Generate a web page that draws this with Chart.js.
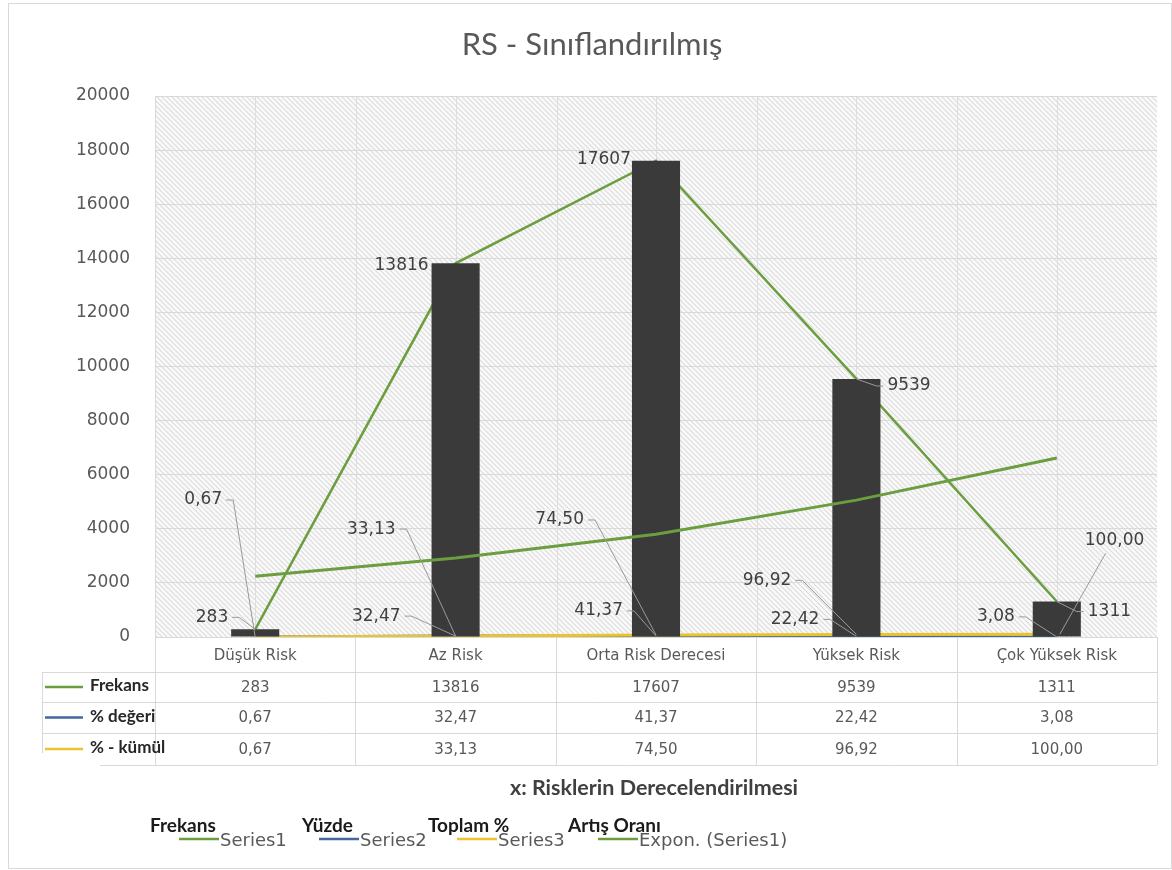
<!DOCTYPE html><html><head>
<meta charset="utf-8">
<title>RS - Sınıflandırılmış</title>
<style>body{margin:0;background:#fff;}canvas{display:block;}</style>
</head>
<body>
<canvas id="chart" width="1172" height="870"></canvas>
<script src="https://cdn.jsdelivr.net/npm/chart.js"></script>
<script>
// data
const categories = ['Düşük Risk', 'Az Risk', 'Orta Risk Derecesi', 'Yüksek Risk', 'Çok Yüksek Risk'];
const frekans = [283, 13816, 17607, 9539, 1311];
const yuzde = [0.67, 32.47, 41.37, 22.42, 3.08];
const kumul = [0.67, 33.13, 74.50, 96.92, 100.00];
const trend = [2250, 2920, 3800, 5060, 6620];
const yMin = 0, yMax = 20000, yStep = 2000;

const GREEN = '#6b9e3f', BLUE = '#44689c', YELLOW = '#e8c431', BAR = '#3a3a3a';
const TXT = '#595959';

// hatch pattern for plot background
function hatch() {
    const c = document.createElement('canvas');
    c.width = 5; c.height = 5;
    const g = c.getContext('2d');
    g.fillStyle = '#fafafa';
    g.fillRect(0, 0, 5, 5);
    g.strokeStyle = '#dcdcdc';
    g.lineWidth = 1.2;
    g.beginPath();
    g.moveTo(-1, -1); g.lineTo(6, 6);
    g.moveTo(-1, 4); g.lineTo(1, 6);
    g.moveTo(4, -1); g.lineTo(6, 1);
    g.stroke();
    return c;
}

const fmt = v => v.toFixed(2).replace('.', ',');

// label offsets from each point: [dx, dy, align, leader]
const labelPos = {
    1: [[-27, -12, 'right', true], [-27, 2, 'right', false], [-25, -1, 'right', false], [31, 7, 'left', true], [31, 10, 'left', true]],
    2: [null, [-55, -20, 'right', true], [-33, -25, 'right', true], [-37, -17, 'right', true], [-42, -20, 'right', true]],
    3: [[-33, -137, 'right', true], [-60, -107, 'right', true], [-72, -115, 'right', true], [-65, -54, 'right', true], [28, -94, 'below', true]]
};

const bgPlugin = {
    id: 'bg',
    beforeDraw(chart) {
        const ctx = chart.ctx, a = chart.chartArea, x = chart.scales.x;
        ctx.save();
        ctx.fillStyle = '#fff';
        ctx.fillRect(0, 0, chart.width, chart.height);
        ctx.strokeStyle = '#d9d9d9';
        ctx.lineWidth = 1;
        ctx.strokeRect(8.5, 3.5, chart.width - 9, chart.height - 5);
        ctx.fillStyle = ctx.createPattern(hatch(), 'repeat');
        ctx.fillRect(a.left, a.top, a.right - a.left, a.bottom - a.top);
        // vertical grid every half category
        ctx.strokeStyle = '#dedede';
        ctx.beginPath();
        const w = x.getPixelForValue(1) - x.getPixelForValue(0);
        for (let i = 0; i < categories.length; i++) {
            const cx = Math.round(x.getPixelForValue(i)) + 0.5;
            ctx.moveTo(cx, a.top); ctx.lineTo(cx, a.bottom);
            const bx = Math.round(cx + w / 2) + 0.5;
            if (i < categories.length - 1) { ctx.moveTo(bx, a.top); ctx.lineTo(bx, a.bottom); }
        }
        ctx.stroke();
        ctx.restore();
    },
    afterDatasetsDraw(chart) {
        const ctx = chart.ctx;
        ctx.save();
        ctx.font = '17px "DejaVu Sans"';
        ctx.textBaseline = 'middle';
        [1, 2, 3].forEach(di => {
            const meta = chart.getDatasetMeta(di);
            const vals = chart.data.datasets[di].data;
            meta.data.forEach((pt, i) => {
                const p = labelPos[di][i];
                if (!p) return;
                const txt = di === 1 ? String(vals[i]) : fmt(vals[i]);
                const tx = pt.x + p[0], ty = pt.y + p[1];
                const tw = ctx.measureText(txt).width;
                ctx.fillStyle = '#404040';
                ctx.strokeStyle = '#9a9a9a';
                ctx.lineWidth = 1;
                if (p[2] === 'right') {
                    ctx.textAlign = 'right';
                    ctx.fillText(txt, tx, ty);
                    if (p[3]) {
                        ctx.beginPath();
                        ctx.moveTo(tx + 4, ty); ctx.lineTo(tx + 11, ty); ctx.lineTo(pt.x, pt.y);
                        ctx.stroke();
                    }
                } else if (p[2] === 'left') {
                    ctx.textAlign = 'left';
                    ctx.fillText(txt, tx, ty);
                    if (p[3]) {
                        ctx.beginPath();
                        ctx.moveTo(tx - 4, ty); ctx.lineTo(tx - 11, ty); ctx.lineTo(pt.x, pt.y);
                        ctx.stroke();
                    }
                } else {
                    ctx.textAlign = 'left';
                    ctx.fillText(txt, tx, ty);
                    ctx.beginPath();
                    ctx.moveTo(tx + tw * 0.35, ty + 13); ctx.lineTo(pt.x + 3, pt.y);
                    ctx.stroke();
                }
            });
        });
        ctx.restore();
    },
    afterDraw(chart) {
        const ctx = chart.ctx, a = chart.chartArea, x = chart.scales.x;
        const w = x.getPixelForValue(1) - x.getPixelForValue(0);
        ctx.save();
        // title
        ctx.fillStyle = TXT;
        ctx.font = '31px Lato';
        ctx.textAlign = 'center';
        ctx.textBaseline = 'middle';
        ctx.fillText('RS - Sınıflandırılmış', 592, 45);
        // data table
        const rowY = [a.bottom, 672, 702, 733, 765];
        ctx.strokeStyle = '#d9d9d9';
        ctx.lineWidth = 1;
        ctx.beginPath();
        for (let r = 1; r < rowY.length; r++) {
            const y = rowY[r] + 0.5;
            ctx.moveTo(r === rowY.length - 1 ? 100 : 42, y); ctx.lineTo(a.right, y);
        }
        ctx.moveTo(42.5, rowY[1]); ctx.lineTo(42.5, rowY[3] + 20);
        for (let i = 0; i <= categories.length; i++) {
            const bx = Math.round(x.getPixelForValue(i) - w / 2) + 0.5;
            ctx.moveTo(bx, a.bottom); ctx.lineTo(bx, rowY[4]);
        }
        ctx.stroke();
        const rows = [
            ['Frekans', GREEN, frekans.map(String)],
            ['% değeri', BLUE, yuzde.map(fmt)],
            ['% - kümül', YELLOW, kumul.map(fmt)]
        ];
        ctx.font = '15px "DejaVu Sans"';
        ctx.fillStyle = TXT;
        categories.forEach((c, i) => ctx.fillText(c, x.getPixelForValue(i), 656));
        rows.forEach((row, r) => {
            const cy = (rowY[r + 1] + rowY[r + 2]) / 2;
            ctx.fillStyle = TXT;
            ctx.font = '15px "DejaVu Sans"';
            ctx.textAlign = 'center';
            row[2].forEach((t, i) => ctx.fillText(t, x.getPixelForValue(i), cy + 1));
            ctx.strokeStyle = row[1];
            ctx.lineWidth = 2.5;
            ctx.beginPath(); ctx.moveTo(45, cy); ctx.lineTo(83, cy); ctx.stroke();
            ctx.fillStyle = '#262626';
            ctx.font = 'bold 17px Lato';
            ctx.textAlign = 'left';
            ctx.fillText(row[0], 90, cy - 1);
        });
        // axis title
        ctx.fillStyle = '#404040';
        ctx.font = 'bold 21.5px Lato';
        ctx.textAlign = 'center';
        ctx.fillText('x: Risklerin Derecelendirilmesi', 654, 788);
        // bottom legend
        const leg = [
            ['Frekans', 150, 179, GREEN, 'Series1'],
            ['Yüzde', 302, 319, BLUE, 'Series2'],
            ['Toplam %', 428, 457, YELLOW, 'Series3'],
            ['Artış Oranı', 568, 598, GREEN, 'Expon. (Series1)']
        ];
        leg.forEach(l => {
            ctx.fillStyle = '#1a1a1a';
            ctx.font = 'bold 19px Lato';
            ctx.textAlign = 'left';
            ctx.fillText(l[0], l[1], 826);
            ctx.strokeStyle = l[3];
            ctx.lineWidth = 2.5;
            ctx.beginPath(); ctx.moveTo(l[2], 839); ctx.lineTo(l[2] + 40, 839); ctx.stroke();
            ctx.fillStyle = TXT;
            ctx.font = '18px "DejaVu Sans"';
            ctx.fillText(l[4], l[2] + 41, 841);
        });
        ctx.restore();
    }
};

const ctx = document.getElementById('chart').getContext('2d');
new Chart(ctx, {
    data: {
        labels: categories,
        datasets: [
            { type: 'bar', label: 'Frekans', data: frekans, backgroundColor: BAR, order: 1,
              barPercentage: 0.24, categoryPercentage: 1 },
            { type: 'line', label: 'Series1', data: frekans, borderColor: GREEN, borderWidth: 2.5,
              pointRadius: 0, tension: 0, order: 2 },
            { type: 'line', label: 'Series2', data: yuzde, borderColor: BLUE, borderWidth: 3,
              pointRadius: 0, order: 4 },
            { type: 'line', label: 'Series3', data: kumul, borderColor: YELLOW, borderWidth: 3,
              pointRadius: 0, order: 3 },
            { type: 'line', label: 'Expon. (Series1)', data: trend, borderColor: GREEN, borderWidth: 3,
              pointRadius: 0, order: 0 }
        ]
    },
    options: {
        responsive: false,
        animation: false,
        layout: { padding: { left: 0, top: 96, right: 15, bottom: 233 } },
        plugins: { legend: { display: false }, tooltip: { enabled: false } },
        scales: {
            x: { display: false, offset: true },
            y: {
                min: yMin, max: yMax,
                ticks: { stepSize: yStep, color: TXT, font: { family: 'DejaVu Sans', size: 17 }, padding: 25,
                         callback: v => String(v) },
                grid: { color: '#d9d9d9', drawTicks: false },
                border: { color: '#d9d9d9' },
                afterFit(scale) { scale.width = 155; }
            }
        }
    },
    plugins: [bgPlugin]
});
</script>
</body></html>
